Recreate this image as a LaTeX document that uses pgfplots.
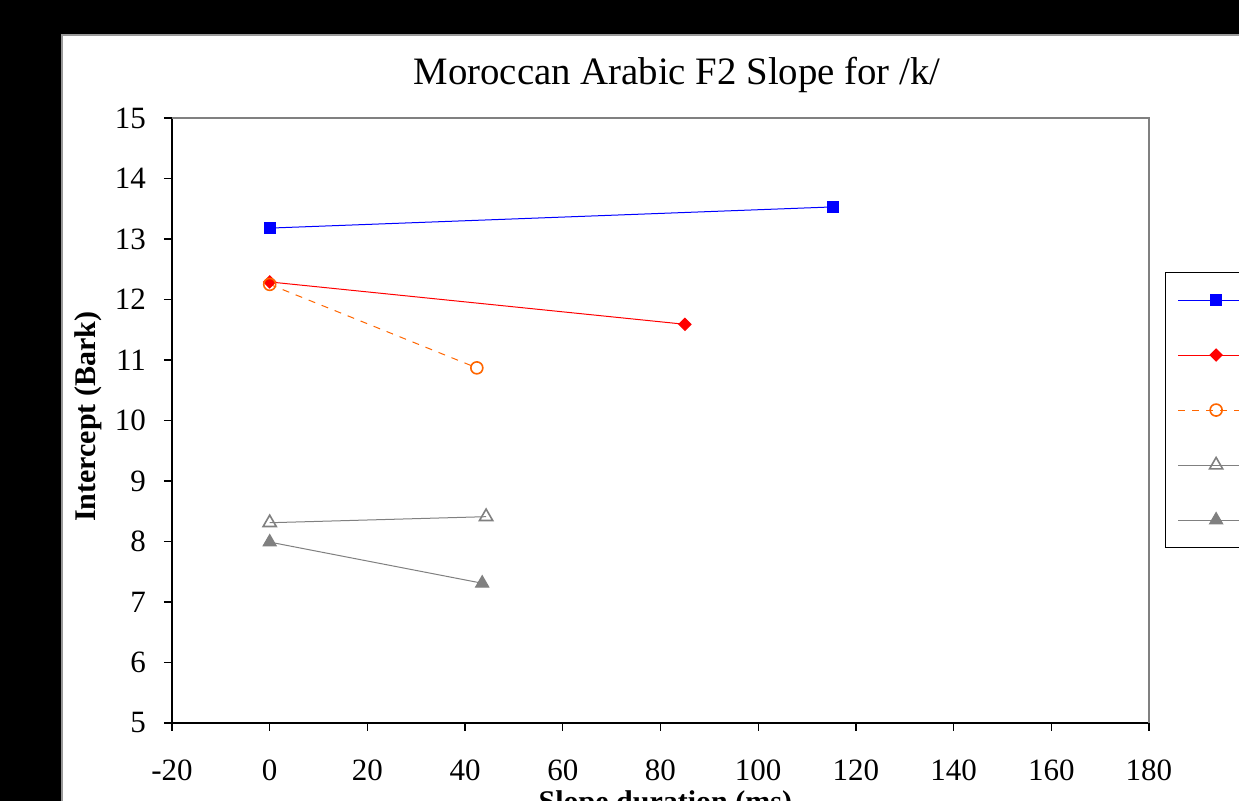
\documentclass[border=0pt]{standalone}
\usepackage{pgfplots}
\pgfplotsset{compat=1.18}
\usepackage{fontspec}
\setmainfont{Liberation Serif}
\definecolor{xblue}{RGB}{0,0,255}
\definecolor{xred}{RGB}{255,0,0}
\definecolor{xorange}{RGB}{255,102,0}
\definecolor{xgray}{RGB}{128,128,128}
\begin{document}
\begin{tikzpicture}
\useasboundingbox (0pt,0pt) rectangle (619.5pt,400.5pt);
\clip (0pt,0pt) rectangle (619.5pt,400.5pt);
\fill[black] (0pt,0pt) rectangle (619.5pt,400.5pt);
\fill[white] (31pt,-5pt) rectangle (625pt,383pt);
\draw[gray!80, line width=0.6pt] (31pt,-5pt) -- (31pt,383pt) -- (625pt,383pt);
\begin{axis}[
  at={(86pt,39pt)}, anchor=south west,
  scale only axis, width=488.5pt, height=302.5pt,
  xmin=-20, xmax=180, ymin=5, ymax=15,
  xtick={-20,0,20,40,60,80,100,120,140,160,180},
  ytick={5,6,7,8,9,10,11,12,13,14,15},
  axis x line*=bottom, axis y line*=left,
  axis line style={-, black, line width=0.6pt},
  tick align=outside, major tick length=4pt,
  tick style={black, line width=0.6pt},
  ticklabel style={font=\fontsize{15.5}{15.5}\selectfont},
  xticklabel style={yshift=-11pt},
  yticklabel style={xshift=-5.5pt},
  /pgf/number format/assume math mode=true,
  title={Moroccan Arabic F2 Slope for /k/},
  title style={font=\fontsize{19.4}{19.4}\selectfont, at={(rel axis cs:0.517,1.035)}, anchor=base},
  xlabel={Slope duration (ms)},
  xlabel style={font=\bfseries\fontsize{15}{15}\selectfont, at={(rel axis cs:0.505,-0.147)}, anchor=base},
  ylabel={Intercept (Bark)},
  ylabel style={font=\bfseries\fontsize{15}{15}\selectfont, at={(rel axis cs:-0.086,0.506)}, anchor=center, rotate=0},
  legend style={at={(rel axis cs:1.0164,0.7455)}, anchor=north west, draw=black, line width=0.6pt,
    inner xsep=6pt, inner ysep=0pt, row sep=0pt, nodes={inner sep=0pt, minimum height=27.5pt}},
  legend cell align=left,
  legend image code/.code={%
    \draw[mark repeat=2, mark phase=2] plot coordinates {(0pt,0pt) (19pt,0pt) (38pt,0pt)};},
  after end axis/.code={\draw[xgray, line width=0.6pt] (rel axis cs:0,1) -- (rel axis cs:1,1) -- (rel axis cs:1,0);},
]
\addplot[xblue, line width=0.5pt, mark=square*, mark size=2.75pt, mark options={solid}] coordinates {(0,13.18) (115.3,13.53)};
\addlegendentry{\hspace*{40pt}}
\addplot[xred, line width=0.5pt, mark=square*, mark size=2.15pt, mark options={solid, rotate=45}] coordinates {(0,12.29) (85,11.59)};
\addlegendentry{\hspace*{40pt}}
\addplot[xorange, line width=0.5pt, dash pattern=on 3.5pt off 3.5pt, mark=o, mark size=3pt, mark options={solid, line width=0.8pt}] coordinates {(0,12.25) (42.4,10.87)};
\addlegendentry{\hspace*{40pt}}
\addplot[xgray, line width=0.5pt, mark=triangle, mark size=3.8pt, mark options={solid, line width=0.8pt}] coordinates {(0,8.31) (44.3,8.41)};
\addlegendentry{\hspace*{40pt}}
\addplot[xgray, line width=0.5pt, mark=triangle*, mark size=3.8pt, mark options={solid}] coordinates {(0,7.99) (43.5,7.31)};
\addlegendentry{\hspace*{40pt}}
\end{axis}
\end{tikzpicture}
\end{document}
